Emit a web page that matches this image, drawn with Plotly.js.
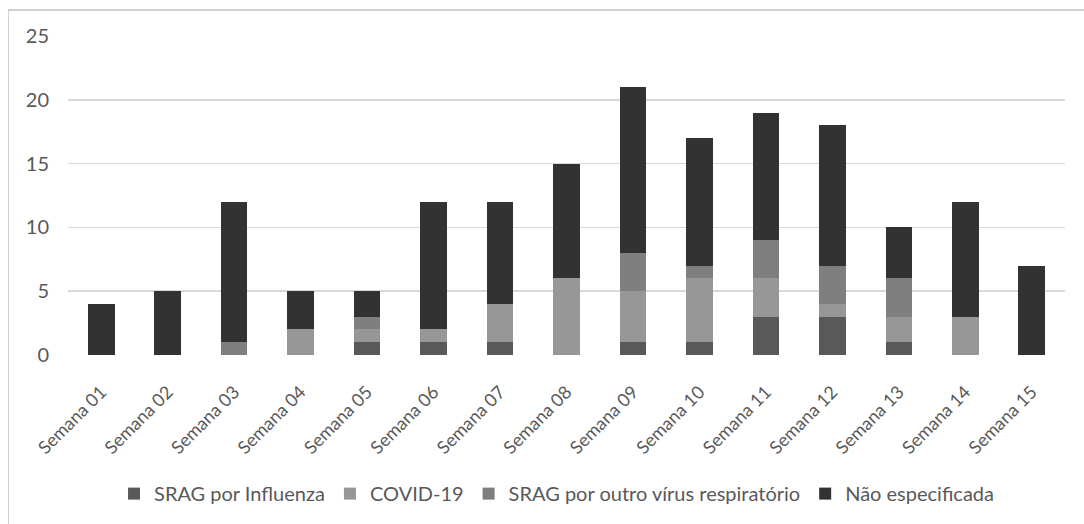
<!DOCTYPE html>
<html>
<head>
<meta charset="utf-8">
<script src="https://cdn.plot.ly/plotly-3.0.1.min.js"></script>
<style>
html,body{margin:0;padding:0;background:#fff;}
#wrap{position:relative;width:1084px;height:524px;overflow:hidden;}
#chart{position:absolute;left:0;top:0;width:1084px;height:524px;}
#frame{position:absolute;left:8px;top:9px;width:1090px;height:530px;border-left:1px solid #d0d0d0;border-top:2px solid #d0d0d0;pointer-events:none;}
</style>
</head>
<body>
<div id="wrap"><div id="chart"></div><div id="frame"></div></div>
<script>
const categories = ["Semana 01","Semana 02","Semana 03","Semana 04","Semana 05","Semana 06","Semana 07","Semana 08","Semana 09","Semana 10","Semana 11","Semana 12","Semana 13","Semana 14","Semana 15"];
const influenza = [0,0,0,0,1,1,1,0,1,1,3,3,1,0,0];
const covid     = [0,0,0,2,1,1,3,6,4,5,3,1,2,3,0];
const outro     = [0,0,1,0,1,0,0,0,3,1,3,3,3,0,0];
const naoEspec  = [4,5,11,3,2,10,8,9,13,10,10,11,4,9,7];
const seriesNames = ["SRAG por Influenza","COVID-19","SRAG por outro vírus respiratório","Não especificada"];
const seriesColors = ["#595959","#979797","#7f7f7f","#323232"];
const yTicks = [0,5,10,15,20,25];

const values = [influenza, covid, outro, naoEspec];
const traces = values.map((v,i)=>({
  type:"bar", x:categories, y:v, name:seriesNames[i],
  marker:{color:seriesColors[i], line:{width:0}},
  hoverinfo:"x+y+name"
}));

const layout = {
  width:1084, height:524,
  barmode:"stack", bargap:0.6,
  paper_bgcolor:"#fff", plot_bgcolor:"#fff",
  margin:{l:68, r:19, t:36, b:168},
  font:{family:"Lato, 'Open Sans', sans-serif", size:18, color:"#595959"},
  xaxis:{type:"category", tickangle:-45, showgrid:false, zeroline:false,
         showline:false, ticks:"", ticklabelstandoff:22, tickfont:{size:18, color:"#595959"}},
  yaxis:{range:[0,25], tickvals:yTicks, showgrid:true, gridcolor:"#d9d9d9", gridwidth:1.5,
         zeroline:false, showline:false, ticks:"", ticklen:0, ticklabelstandoff:18,
         tickfont:{size:20, color:"#595959"}},
  showlegend:true,
  legend:{orientation:"h", x:0.49, xanchor:"center", y:-0.43, yanchor:"middle",
          font:{size:20, color:"#595959"}, traceorder:"normal", itemwidth:30},
};
Plotly.newPlot("chart", traces, layout, {displayModeBar:false, staticPlot:true});
</script>
</body>
</html>
